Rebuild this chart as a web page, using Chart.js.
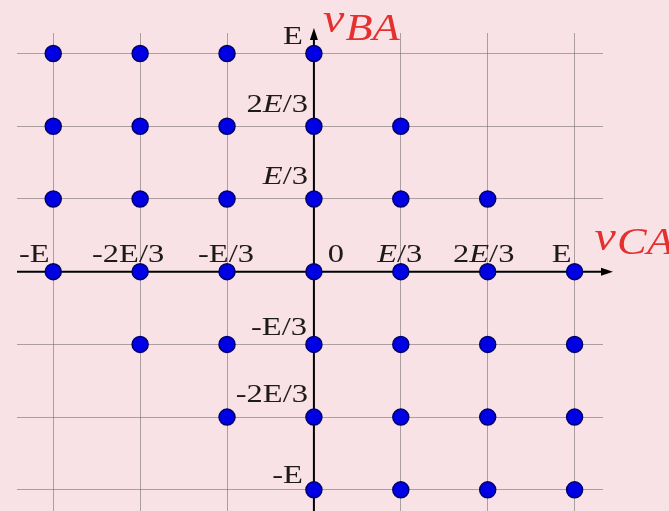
<!DOCTYPE html>
<html>
<head>
<meta charset="utf-8">
<script src="https://cdn.jsdelivr.net/npm/chart.js@4/dist/chart.umd.min.js"></script>
<style>
  html, body { margin: 0; padding: 0; background: #f8e2e5; }
  #wrap { width: 669px; height: 511px; }
</style>
</head>
<body>
<div id="wrap"><canvas id="c" width="669" height="511"></canvas></div>
<script>
// Voltage states (in units of E): v_CA on x, v_BA on y
const vCA = [
  -1, -2/3, -1/3, 0,
  -1, -2/3, -1/3, 0, 1/3,
  -1, -2/3, -1/3, 0, 1/3, 2/3,
  -1, -2/3, -1/3, 0, 1/3, 2/3, 1,
  -2/3, -1/3, 0, 1/3, 2/3, 1,
  -1/3, 0, 1/3, 2/3, 1,
  0, 1/3, 2/3, 1
];
const vBA = [
  1, 1, 1, 1,
  2/3, 2/3, 2/3, 2/3, 2/3,
  1/3, 1/3, 1/3, 1/3, 1/3, 1/3,
  0, 0, 0, 0, 0, 0, 0,
  -1/3, -1/3, -1/3, -1/3, -1/3, -1/3,
  -2/3, -2/3, -2/3, -2/3, -2/3,
  -1, -1, -1, -1
];

// Grid levels and their labels
const tickValues = [-1, -2/3, -1/3, 0, 1/3, 2/3, 1];
const xTickLabels = ['-E', '-2E/3', '-E/3', '0', 'E/3', '2E/3', 'E'];
const yTickLabels = ['-E', '-2E/3', '-E/3', '', 'E/3', '2E/3', 'E'];
const xItalicE = [false, false, false, false, true, true, false];
const yItalicE = [false, false, false, false, true, true, false];
const xTitle = ['v', 'CA'];
const yTitle = ['v', 'BA'];

// Label placement tweaks (pixels)
const xLabelShift = [-19, -12, -1, 22, -1, -4, -13];
const yLabelRight = [-11, -6, -7, 0, -6, -6, -11];
const yLabelLift = [7, 15, 9, 0, 15, 14, 10];

const BG = '#f8e2e5';
const INK = '#1e1a1a';
const RED = '#e4302e';
const STRETCH = 1.3;
const FONT_UP = '25px "Liberation Serif"';
const FONT_IT = 'italic 25px "Liberation Serif"';

const points = vCA.map((x, i) => ({ x: x, y: vBA[i] }));

function labelSegments(text, italic) {
  if (!italic) return [{ t: text, f: FONT_UP }];
  const k = text.indexOf('E');
  return [
    { t: text.slice(0, k), f: FONT_UP },
    { t: 'E', f: FONT_IT },
    { t: text.slice(k + 1), f: FONT_UP }
  ].filter(s => s.t.length);
}

function drawSegments(ctx, segs, x, y, align, sx) {
  let total = 0;
  segs.forEach(s => { ctx.font = s.f; s.w = ctx.measureText(s.t).width; total += s.w; });
  ctx.save();
  ctx.translate(x, y);
  ctx.scale(sx, 1);
  let cx = align === 'center' ? -total / 2 : align === 'right' ? -total : 0;
  ctx.textAlign = 'left';
  ctx.textBaseline = 'alphabetic';
  segs.forEach(s => { ctx.font = s.f; ctx.fillText(s.t, cx, 0); cx += s.w; });
  ctx.restore();
}

const backgroundPlugin = {
  id: 'bg',
  beforeDraw(chart) {
    const ctx = chart.ctx;
    ctx.save();
    ctx.fillStyle = BG;
    ctx.fillRect(0, 0, chart.width, chart.height);
    ctx.restore();
  }
};

const axesPlugin = {
  id: 'axes',
  beforeDatasetsDraw(chart) {
    const ctx = chart.ctx, xs = chart.scales.x, ys = chart.scales.y, a = chart.chartArea;
    const ox = xs.getPixelForValue(0), oy = ys.getPixelForValue(0);
    ctx.save();
    ctx.strokeStyle = '#000';
    ctx.fillStyle = '#000';
    ctx.lineWidth = 2;
    // horizontal axis with arrow
    const xTip = a.right + 10;
    ctx.beginPath(); ctx.moveTo(a.left, oy); ctx.lineTo(xTip - 8, oy); ctx.stroke();
    ctx.beginPath(); ctx.moveTo(xTip, oy); ctx.lineTo(xTip - 12, oy - 4); ctx.lineTo(xTip - 12, oy + 4); ctx.closePath(); ctx.fill();
    // vertical axis with arrow
    const yTip = a.top - 5;
    ctx.beginPath(); ctx.moveTo(ox, a.bottom); ctx.lineTo(ox, yTip + 8); ctx.stroke();
    ctx.beginPath(); ctx.moveTo(ox, yTip); ctx.lineTo(ox - 4, yTip + 12); ctx.lineTo(ox + 4, yTip + 12); ctx.closePath(); ctx.fill();
    ctx.restore();
  },
  afterDraw(chart) {
    const ctx = chart.ctx, xs = chart.scales.x, ys = chart.scales.y;
    const ox = xs.getPixelForValue(0), oy = ys.getPixelForValue(0);
    ctx.save();
    ctx.fillStyle = INK;
    tickValues.forEach((v, i) => {
      const px = xs.getPixelForValue(v);
      drawSegments(ctx, labelSegments(xTickLabels[i], xItalicE[i]), px + xLabelShift[i], oy - 10, 'center', STRETCH);
    });
    tickValues.forEach((v, i) => {
      if (!yTickLabels[i]) return;
      const py = ys.getPixelForValue(v);
      drawSegments(ctx, labelSegments(yTickLabels[i], yItalicE[i]), ox + yLabelRight[i], py - yLabelLift[i], 'right', STRETCH);
    });
    // axis names
    ctx.fillStyle = RED;
    const drawTitle = (parts, x, y, drop) => {
      ctx.save();
      ctx.translate(x, y);
      ctx.scale(1.2, 1);
      ctx.textAlign = 'left';
      ctx.textBaseline = 'alphabetic';
      ctx.font = 'italic 40px "Liberation Serif"';
      ctx.fillText(parts[0], 0, 0);
      const w = ctx.measureText(parts[0]).width + 1;
      ctx.font = 'italic 37px "Liberation Serif"';
      ctx.fillText(parts[1], w, drop);
      ctx.restore();
    };
    drawTitle(yTitle, ox + 9, 32, 8);
    drawTitle(xTitle, xs.getPixelForValue(1) + 20, 250, 4);
    ctx.restore();
  }
};

function fixedTicks(scale) {
  scale.ticks = tickValues.map(v => ({ value: v }));
}
function noSize(scale) {
  if (scale.isHorizontal()) scale.height = 0; else scale.width = 0;
}

const gridStyle = { color: 'rgba(110,100,100,0.55)', lineWidth: 1, drawTicks: false, tickLength: 0 };

new Chart(document.getElementById('c'), {
  type: 'scatter',
  data: {
    datasets: [{
      data: points,
      pointRadius: 8,
      pointHoverRadius: 8,
      backgroundColor: '#0000e4',
      borderColor: '#00006a',
      borderWidth: 1.5,
      clip: false
    }]
  },
  options: {
    responsive: false,
    animation: false,
    events: [],
    layout: { autoPadding: false, padding: { left: 17, right: 66, top: 33, bottom: 0 } },
    plugins: { legend: { display: false }, tooltip: { enabled: false } },
    scales: {
      x: {
        type: 'linear', min: -1.139, max: 1.109,
        afterBuildTicks: fixedTicks,
        afterFit: noSize,
        ticks: { display: false },
        grid: gridStyle,
        border: { display: false }
      },
      y: {
        type: 'linear', min: -1.097, max: 1.094,
        afterBuildTicks: fixedTicks,
        afterFit: noSize,
        ticks: { display: false },
        grid: gridStyle,
        border: { display: false }
      }
    }
  },
  plugins: [backgroundPlugin, axesPlugin]
});
</script>
</body>
</html>
